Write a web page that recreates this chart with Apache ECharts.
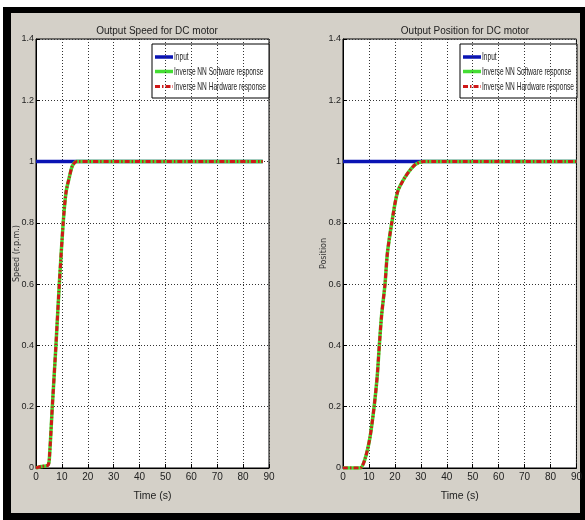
<!DOCTYPE html>
<html>
<head>
<meta charset="utf-8">
<script src="https://cdn.jsdelivr.net/npm/echarts@6/dist/echarts.min.js"></script>
<style>
html,body{margin:0;padding:0;background:#fff;}
#frame{position:absolute;left:3px;top:7px;width:582px;height:513px;background:#000;}
#panel{position:absolute;left:11px;top:13px;width:569px;height:500px;background:#d4d0c8;}
#c{position:absolute;left:0;top:0;width:585px;height:520px;}
</style>
</head>
<body>
<div id="frame"></div>
<div id="panel"></div>
<div id="c"></div>
<script>
// ---- data ----
const seriesNames = ['Input', 'Inverse NN Software response', 'Inverse NN Hardware response'];
const xTicks = [0, 10, 20, 30, 40, 50, 60, 70, 80, 90];
const yTicks = [0, 0.2, 0.4, 0.6, 0.8, 1, 1.2, 1.4];

// Speed plot
const speedInputT = [0, 87.6];
const speedInputY = [1, 1];
const speedT   = [0, 2, 4.7, 5.3, 6.3, 7.7, 9.0, 10.5, 11.6, 12.9, 14.0, 15.7, 87.6];
const speedSw  = [0, 0.005, 0.01, 0.05, 0.2, 0.4, 0.6, 0.8, 0.9, 0.95, 0.985, 1.0, 1.0];
const speedHw  = [0, 0.005, 0.01, 0.05, 0.2, 0.4, 0.6, 0.8, 0.9, 0.95, 0.985, 1.0, 1.0];

// Position plot
const posInputT = [0, 90];
const posInputY = [1, 1];
const posT  = [0, 6.6, 8.5, 10.4, 12.0, 13.2, 14.0, 14.9, 16.2, 17.1, 18.8, 21.0, 24.0, 27.8, 31.0, 90];
const posSw = [0, 0, 0.03, 0.1, 0.2, 0.3, 0.4, 0.5, 0.6, 0.7, 0.8, 0.9, 0.95, 0.99, 1.0, 1.0];
const posHw = [0, 0, 0.03, 0.1, 0.2, 0.3, 0.4, 0.5, 0.6, 0.7, 0.8, 0.9, 0.95, 0.99, 1.0, 1.0];

const titles = ['Output Speed for DC motor', 'Output Position for DC motor'];
const yNames = ['Speed (r.p.m.)', 'Position'];
const xName = 'Time (s)';

// ---- styles ----
const COLORS = ['#0a14b4', '#44dd33', '#d01818'];
const FONT = '"Liberation Sans Narrow", "Liberation Sans", Arial, sans-serif';
const pair = (t, y) => t.map((v, i) => [v, y[i]]);

// measure text for condensed legend text
const mctx = document.createElement('canvas').getContext('2d');
mctx.font = '11px "Liberation Sans", Arial, sans-serif';
const legendTextW = mctx.measureText(seriesNames[2]).width;
const legendScale = 92 / legendTextW;

const grids = [
  {left: 36, right: 316, top: 39, bottom: 52},
  {left: 343, right: 8, top: 39, bottom: 52}
];

function xAxis(i) {
  return {
    type: 'value', gridIndex: i, min: 0, max: 90, interval: 10,
    name: xName, nameLocation: 'middle', nameGap: 23, nameMoveOverlap: false,
    nameTextStyle: {fontFamily: FONT, fontSize: 10.5, color: '#222'},
    axisLine: {show: true, lineStyle: {color: '#000', width: 1}},
    axisTick: {show: true, inside: true, length: 4, lineStyle: {color: '#000'}},
    axisLabel: {fontFamily: FONT, fontSize: 10, color: '#222', margin: 4},
    splitLine: {show: true, lineStyle: {color: '#333', type: [1, 2], width: 1}}
  };
}
function yAxis(i) {
  return {
    type: 'value', gridIndex: i, min: 0, max: 1.4, interval: 0.2,
    name: yNames[i], nameLocation: 'middle', nameGap: 15, nameRotate: 90, nameMoveOverlap: false,
    nameTextStyle: {fontFamily: '"DejaVu Sans", sans-serif', fontSize: 8, color: '#333'},
    axisLine: {show: true, lineStyle: {color: '#000', width: 1}},
    axisTick: {show: true, inside: true, length: 4, lineStyle: {color: '#000'}},
    axisLabel: {fontFamily: FONT, fontSize: 9, color: '#222', margin: 2,
      formatter: v => String(Math.round(v * 10) / 10)},
    splitLine: {show: true, lineStyle: {color: '#333', type: [1, 2], width: 1}}
  };
}

function seriesFor(i, inT, inY, t, sw, hw) {
  return [
    {name: seriesNames[0], type: 'line', xAxisIndex: i, yAxisIndex: i, data: pair(inT, inY),
     symbol: 'none', lineStyle: {color: COLORS[0], width: 3.5}, itemStyle: {color: COLORS[0]}, z: 2},
    {name: seriesNames[1], type: 'line', xAxisIndex: i, yAxisIndex: i, data: pair(t, sw),
     symbol: 'none', smooth: 0.25, lineStyle: {color: COLORS[1], width: 3.5}, itemStyle: {color: COLORS[1]}, z: 3},
    {name: seriesNames[2], type: 'line', xAxisIndex: i, yAxisIndex: i, data: pair(t, hw),
     symbol: 'none', smooth: 0.25, lineStyle: {color: COLORS[2], width: 3, type: [5, 2, 1.5, 2]}, itemStyle: {color: COLORS[2]}, z: 4}
  ];
}

// legend box drawn as graphic (condensed text like the original)
function legendGraphic(boxLeft, boxRight) {
  const top = 44, rowY = [57, 71.5, 86.5];
  const children = [{
    type: 'rect', shape: {x: boxLeft, y: top, width: boxRight - boxLeft, height: 54},
    style: {fill: '#fff', stroke: '#000', lineWidth: 1}
  }];
  const lineStyles = [
    {stroke: COLORS[0], lineWidth: 3.5},
    {stroke: COLORS[1], lineWidth: 3.5},
    {stroke: COLORS[2], lineWidth: 3, lineDash: [5, 2, 1.5, 2]}
  ];
  seriesNames.forEach((n, k) => {
    children.push({type: 'line', shape: {x1: boxLeft + 3, y1: rowY[k], x2: boxLeft + 21, y2: rowY[k]}, style: lineStyles[k]});
    children.push({type: 'text', x: boxLeft + 22, y: rowY[k], scaleX: legendScale,
      style: {text: n, font: '11px "Liberation Sans", Arial, sans-serif', fill: '#222', verticalAlign: 'middle', align: 'left'}});
  });
  return {type: 'group', children: children, z: 100};
}

const chart = echarts.init(document.getElementById('c'), null, {renderer: 'canvas'});
chart.setOption({
  backgroundColor: 'transparent',
  animation: false,
  title: [
    {text: titles[0], left: 152, top: 21, textAlign: 'center',
     textStyle: {fontFamily: FONT, fontSize: 10, fontWeight: 'normal', color: '#222'}},
    {text: titles[1], left: 460, top: 21, textAlign: 'center',
     textStyle: {fontFamily: FONT, fontSize: 10, fontWeight: 'normal', color: '#222'}}
  ],
  grid: grids.map(g => Object.assign({show: true, backgroundColor: '#fff', borderColor: '#000', borderWidth: 1}, g)),
  xAxis: [xAxis(0), xAxis(1)],
  yAxis: [yAxis(0), yAxis(1)],
  series: [
    ...seriesFor(0, speedInputT, speedInputY, speedT, speedSw, speedHw),
    ...seriesFor(1, posInputT, posInputY, posT, posSw, posHw)
  ],
  graphic: [legendGraphic(152, 269), legendGraphic(460, 577)]
});
</script>
</body>
</html>
